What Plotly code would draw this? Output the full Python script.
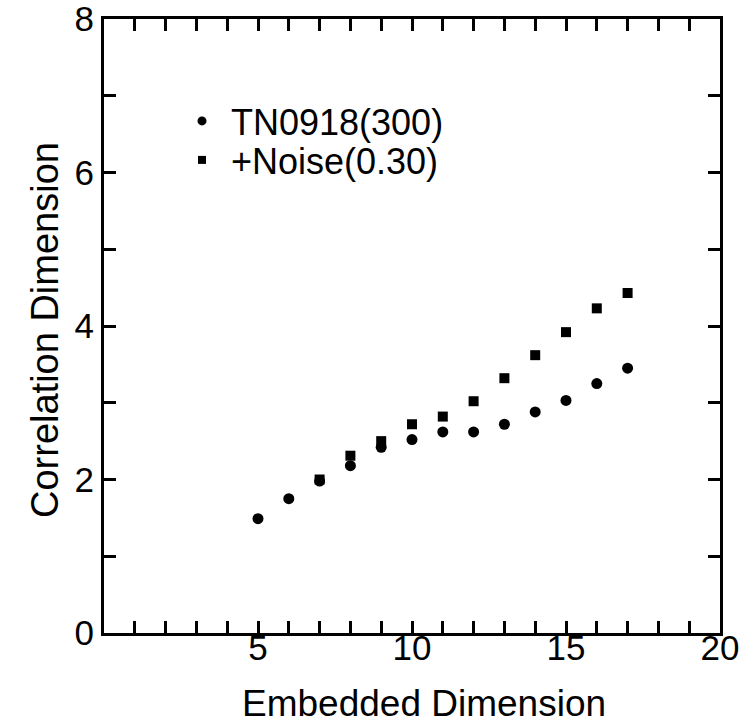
import plotly.graph_objects as go

# Data
emb_tn = [5, 6, 7, 8, 9, 10, 11, 12, 13, 14, 15, 16, 17]
cd_tn = [1.49, 1.75, 1.98, 2.18, 2.42, 2.52, 2.62, 2.62, 2.72, 2.88, 3.03, 3.25, 3.45]

emb_noise = [7, 8, 9, 10, 11, 12, 13, 14, 15, 16, 17]
cd_noise = [2.0, 2.31, 2.5, 2.72, 2.82, 3.02, 3.32, 3.62, 3.92, 4.23, 4.43]

name_tn = "TN0918(300)"
name_noise = "+Noise(0.30)"

x_ticks = list(range(0, 21))
x_text = [str(v) if (v % 5 == 0 and v > 0) else "" for v in x_ticks]
y_ticks = list(range(0, 9))
y_text = [str(v) if v % 2 == 0 else "" for v in y_ticks]

x_title = "Embedded Dimension"
y_title = "Correlation Dimension"

FONT = "Liberation Sans, Arial, sans-serif"

L, R, T, B = 104, 25, 19, 93
W, H = 745, 726
pw, ph = W - L - R, H - T - B

def px(x):
    return (x - L) / pw

def py(y):
    return (H - B - y) / ph

fig = go.Figure()
fig.add_trace(go.Scatter(x=emb_tn, y=cd_tn, mode="markers", showlegend=False,
                         marker=dict(symbol="circle", size=11, color="black")))
fig.add_trace(go.Scatter(x=emb_noise, y=cd_noise, mode="markers", showlegend=False,
                         marker=dict(symbol="square", size=10, color="black")))
# invisible trace to carry the tick-label axis
fig.add_trace(go.Scatter(x=[None], y=[None], xaxis="x2", mode="markers",
                         showlegend=False, hoverinfo="skip"))
# legend entries (two independent legends for exact spacing)
fig.add_trace(go.Scatter(x=[None], y=[None], mode="markers", name=name_tn, legend="legend",
                         marker=dict(symbol="circle", size=9, color="black")))
fig.add_trace(go.Scatter(x=[None], y=[None], mode="markers", name=name_noise, legend="legend2",
                         marker=dict(symbol="square", size=8, color="black")))

axis_common = dict(showgrid=False, zeroline=False, showline=True, linecolor="black",
                   linewidth=3, mirror="ticks", ticks="inside", ticklen=12,
                   tickwidth=2.5, tickcolor="black", automargin=False,
                   ticklabeloverflow="allow",
                   tickfont=dict(family=FONT, size=35, color="black"))

fig.update_layout(
    xaxis=dict(range=[0, 20], tickvals=x_ticks, showticklabels=False, **axis_common),
    xaxis2=dict(range=[0, 20], tickvals=x_ticks, ticktext=x_text, overlaying="x",
                anchor="free", position=py(624), side="bottom", showline=False,
                showgrid=False, zeroline=False, ticks="", automargin=False,
                ticklabeloverflow="allow",
                tickfont=dict(family=FONT, size=35, color="black")),
    yaxis=dict(range=[0, 8], tickvals=y_ticks, ticktext=y_text, **axis_common),
)

leg_font = dict(family=FONT, size=36, color="black")
fig.update_layout(
    width=W, height=H,
    margin=dict(l=L, r=R, t=T, b=B),
    plot_bgcolor="white", paper_bgcolor="white",
    font=dict(family=FONT, color="black"),
    legend=dict(x=px(173), y=py(121), xanchor="left", yanchor="middle",
                font=leg_font, bgcolor="rgba(0,0,0,0)", itemwidth=48),
    legend2=dict(x=px(173), y=py(160), xanchor="left", yanchor="middle",
                 font=leg_font, bgcolor="rgba(0,0,0,0)", itemwidth=48),
    annotations=[
        dict(text=x_title, xref="paper", yref="paper", x=px(424), y=py(703),
             xanchor="center", yanchor="middle", showarrow=False,
             font=dict(family=FONT, size=37, color="black")),
        dict(text=y_title, xref="paper", yref="paper", x=px(45), y=py(330),
             xanchor="center", yanchor="middle", showarrow=False, textangle=-90,
             font=dict(family=FONT, size=38, color="black")),
    ],
)

fig.write_html("out.html")
